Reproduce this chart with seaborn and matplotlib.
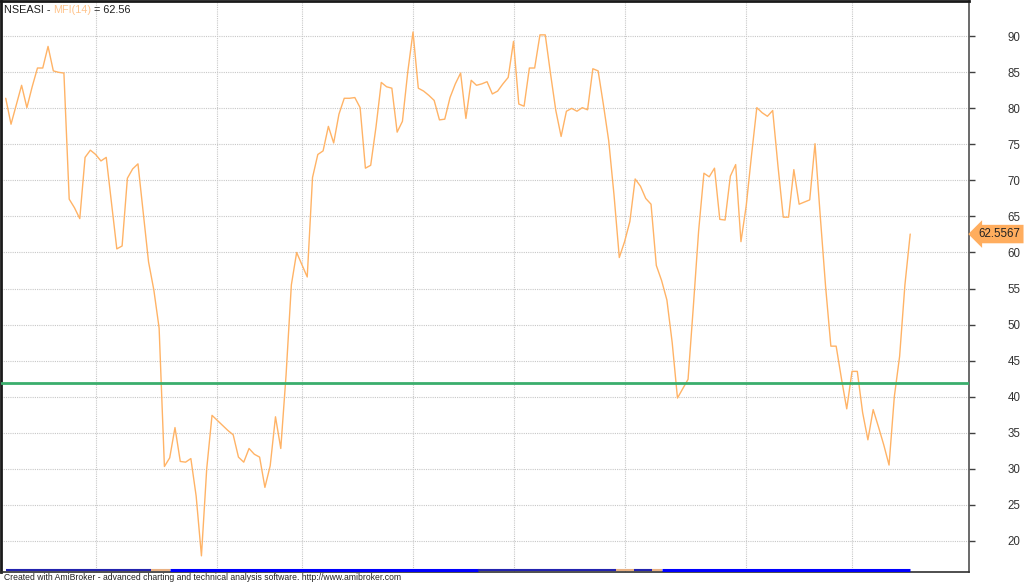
import matplotlib
matplotlib.use('Agg')
import matplotlib.pyplot as plt
import seaborn as sns
import pandas as pd

# MFI(14) daily values
mfi = [81.4, 77.8, 80.5, 83.2, 80.1, 83.0, 85.6, 85.6, 88.6, 85.2,
       85.0, 84.9, 67.4, 66.2, 64.7, 73.2, 74.2, 73.6, 72.7, 73.2,
       66.8, 60.5, 60.9, 70.3, 71.6, 72.3, 65.5, 58.7, 54.8, 49.5,
       30.3, 31.5, 35.7, 31.0, 30.9, 31.4, 26.2, 17.9, 30.0, 37.4,
       36.7, 36.0, 35.3, 34.7, 31.6, 30.9, 32.8, 32.0, 31.6, 27.4,
       30.4, 37.2, 32.8, 43.0, 55.5, 60.0, 58.3, 56.6, 70.4, 73.6,
       74.1, 77.5, 75.2, 79.2, 81.4, 81.4, 81.5, 80.1, 71.7, 72.1,
       77.4, 83.6, 83.0, 82.8, 76.7, 78.2, 85.0, 90.6, 82.8, 82.4,
       81.8, 81.1, 78.4, 78.5, 81.5, 83.4, 84.9, 78.6, 83.9, 83.2,
       83.4, 83.7, 82.0, 82.4, 83.4, 84.3, 89.3, 80.6, 80.3, 85.6,
       85.6, 90.2, 90.2, 84.8, 79.7, 76.1, 79.6, 80.0, 79.6, 80.1,
       79.8, 85.5, 85.2, 80.5, 75.5, 68.0, 59.3, 61.5, 64.3, 70.2,
       69.2, 67.5, 66.7, 58.2, 56.1, 53.4, 47.5, 39.8, 41.1, 42.4,
       52.5, 63.0, 71.0, 70.5, 71.7, 64.6, 64.5, 70.6, 72.2, 61.5,
       66.5, 73.5, 80.1, 79.4, 78.9, 79.7, 72.0, 64.9, 64.9, 71.5,
       66.7, 67.0, 67.3, 75.1, 65.0, 55.3, 47.0, 47.0, 42.5, 38.3,
       43.5, 43.5, 37.8, 34.0, 38.2, 35.8, 33.3, 30.5, 40.0, 45.6,
       55.5, 62.5567]
days = list(range(len(mfi)))

level = 41.9                      # green reference line
month_starts = [17, 40, 56, 77, 96, 117, 140, 160]
y_ticks = [20, 25, 30, 35, 40, 45, 50, 55, 60, 65, 70, 75, 80, 85, 90]

# coloured strip along the bottom edge (bar ranges)
strip_start = [0, 27.4, 31, 89.2, 115.4, 118.7, 122.2, 124.1]
strip_end = [27.4, 31, 89.2, 115.4, 118.7, 122.2, 124.1, 171]
strip_kind = ['dark', 'tan', 'blue', 'dark', 'tan', 'dark', 'tan', 'blue']

line_color = '#ffb366'
strip_styles = {'dark': ('#2323b0', 1.5), 'tan': ('#e9b183', 1.5), 'blue': ('#0000ff', 2.2)}

sns.set_style('white')
plt.rcParams['font.family'] = ['Liberation Sans', 'DejaVu Sans']

fig = plt.figure(figsize=(10.24, 5.83), dpi=100)
ax = fig.add_axes([0.001, 0.0189, 0.945, 0.980])

df = pd.DataFrame({'day': days, 'mfi': mfi})
sns.lineplot(data=df, x='day', y='mfi', ax=ax, color=line_color, lw=1.0)
ax.axhline(level, color='#3aae6c', lw=2.0, zorder=3)

bottom = ax.get_xaxis_transform()
for s, e, k in zip(strip_start, strip_end, strip_kind):
    c, w = strip_styles[k]
    ax.hlines(0.004, s, e, colors=c, lw=w, transform=bottom, zorder=4)

ax.set_xlim(-0.89, 182.06)
ax.set_ylim(15.66, 94.95)
ax.set_xlabel('')
ax.set_ylabel('')

ax.set_xticks(month_starts)
ax.tick_params(axis='x', length=0, labelbottom=False)
ax.yaxis.tick_right()
ax.set_yticks(y_ticks)
ax.tick_params(axis='y', length=4, width=1, color='#404040', pad=24,
               labelsize=8.3, labelcolor='#333333')
ax.grid(True, color='#c8c8c8', linestyle=(0, (1, 1)), lw=0.8)

for side in ['top', 'left']:
    ax.spines[side].set_color('#1a1a1a')
    ax.spines[side].set_linewidth(2)
ax.spines['right'].set_color('#505050')
ax.spines['right'].set_linewidth(1.2)
ax.spines['bottom'].set_color('#303030')
ax.spines['bottom'].set_linewidth(1.2)

# multi-coloured title inside the pane
t1 = ax.text(0.003, 0.993, 'NSEASI - ', transform=ax.transAxes, va='top', ha='left',
             fontsize=7.8, color='#1f1f1f')
t2 = ax.annotate('MFI(14)', xy=(1, 0), xycoords=t1, va='bottom', ha='left',
                 fontsize=7.8, color='#ffc48c')
ax.annotate(f' = {mfi[-1]:.2f}', xy=(1, 0), xycoords=t2, va='bottom', ha='left',
            fontsize=7.8, color='#1f1f1f')

# last value marker on the right scale
ax.annotate(f'{mfi[-1]:.4f}', xy=(1.0, mfi[-1]), xycoords=ax.get_yaxis_transform(),
            xytext=(7, 0), textcoords='offset points', va='center', ha='left',
            fontsize=8.3, color='#222222', annotation_clip=False,
            bbox=dict(boxstyle='larrow,pad=0.28', fc='#ffad5e', ec='none'))

fig.text(0.004, 0.0094, 'Created with AmiBroker - advanced charting and technical analysis '
         'software. http://www.amibroker.com', fontsize=6.2, color='#222222',
         va='center', ha='left')

fig.savefig('out.png', dpi=100)
